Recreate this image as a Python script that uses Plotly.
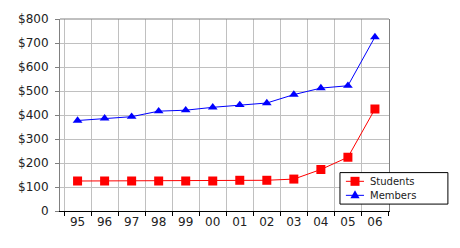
import plotly.graph_objects as go

years = ["95", "96", "97", "98", "99", "00", "01", "02", "03", "04", "05", "06"]
students = [125, 125, 125, 125, 125, 125, 128, 128, 133, 173, 224, 425]
members = [377, 386, 393, 416, 420, 432, 442, 450, 485, 512, 522, 725]
y_ticks = [0, 100, 200, 300, 400, 500, 600, 700, 800]
y_labels = ["0", "$100", "$200", "$300", "$400", "$500", "$600", "$700", "$800"]
series_names = ["Students", "Members"]
series_colors = ["#ff0000", "#0000ff"]

fig = go.Figure()
fig.add_trace(go.Scatter(
    x=years, y=students, name=series_names[0], mode="lines+markers",
    line=dict(color=series_colors[0], width=1),
    marker=dict(symbol="square", size=9, color=series_colors[0]),
))
fig.add_trace(go.Scatter(
    x=years, y=members, name=series_names[1], mode="lines+markers",
    line=dict(color=series_colors[1], width=1),
    marker=dict(symbol="triangle-up", size=8.5, color=series_colors[1]),
))

# custom compact legend (box, sample lines, symbols, labels)
lg_x0, lg_x1, lg_y0, lg_y1 = 0.851, 1.179, 0.036, 0.200
row_y = [0.1546, 0.0816]
line_x0, line_x1, sym_x, text_x = 0.869, 0.924, 0.8967, 0.936
shapes = [
    dict(type="line", xref="paper", yref="paper", x0=0, x1=1, y0=1, y1=1,
         line=dict(color="#808080", width=1)),
    dict(type="rect", xref="paper", yref="paper", x0=lg_x0, x1=lg_x1, y0=lg_y0, y1=lg_y1,
         line=dict(color="black", width=1), fillcolor="white", layer="above"),
]
annotations = []
for i, (nm, col) in enumerate(zip(series_names, series_colors)):
    shapes.append(dict(type="line", xref="paper", yref="paper", x0=line_x0, x1=line_x1,
                       y0=row_y[i], y1=row_y[i], line=dict(color=col, width=1), layer="above"))
    if i == 0:
        shapes.append(dict(type="rect", xref="paper", yref="paper",
                           xsizemode="pixel", ysizemode="pixel",
                           xanchor=sym_x, yanchor=row_y[i],
                           x0=-4.5, x1=4.5, y0=-4.5, y1=4.5,
                           fillcolor=col, line=dict(width=0), layer="above"))
    else:
        shapes.append(dict(type="path", xref="paper", yref="paper",
                           xsizemode="pixel", ysizemode="pixel",
                           xanchor=sym_x, yanchor=row_y[i],
                           path="M -4.6,-3 L 4.6,-3 L 0,5 Z",
                           fillcolor=col, line=dict(width=0), layer="above"))
    annotations.append(dict(xref="paper", yref="paper", x=text_x, y=row_y[i],
                            text=nm, showarrow=False, xanchor="left", yanchor="middle",
                            font=dict(size=10, color="#222222")))

fig.update_layout(
    width=460, height=248,
    margin=dict(l=60, r=71, t=15, b=37),
    paper_bgcolor="white", plot_bgcolor="white",
    font=dict(family="DejaVu Sans", size=12, color="#222222"),
    showlegend=False,
    shapes=shapes,
    annotations=annotations,
)
fig.update_xaxes(
    type="category", range=[-0.65, 11.52],
    tickson="boundaries", ticks="outside", ticklen=4, tickcolor="black",
    showgrid=True, gridcolor="#c0c0c0", gridwidth=1,
    showline=True, linecolor="black", linewidth=1,
    zeroline=False, fixedrange=True,
)
fig.update_yaxes(
    range=[0, 800], tickvals=y_ticks, ticktext=y_labels,
    ticks="outside", ticklen=4, tickcolor="#808080",
    showgrid=True, gridcolor="#c0c0c0", gridwidth=1,
    showline=True, linecolor="#808080", linewidth=1, mirror=True,
    zeroline=False, ticklabelstandoff=4,
)

fig.write_html("out.html")
